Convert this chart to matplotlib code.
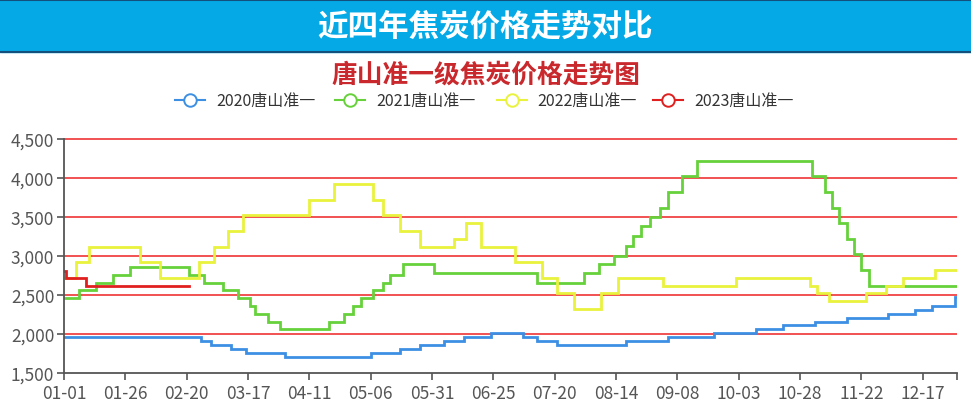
import pandas as pd
import matplotlib.pyplot as plt
from matplotlib.patches import Rectangle

plt.rcParams['font.family'] = ['Noto Sans CJK SC', 'DejaVu Sans']

# step data: date where the price changes -> new price
dates_2020 = ['01-01', '02-26', '03-02', '03-10', '03-16', '04-01', '05-06', '05-18', '05-26',
              '06-05', '06-13', '06-24', '07-07', '07-13', '07-21', '08-18', '09-04', '09-23',
              '10-10', '10-21', '11-03', '11-16', '12-03', '12-14', '12-21', '12-30', '12-31']
vals_2020 = [1960, 1910, 1860, 1810, 1760, 1710, 1760, 1810, 1860,
             1910, 1960, 2010, 1960, 1910, 1860, 1910, 1960, 2010,
             2060, 2110, 2160, 2210, 2260, 2310, 2360, 2480, 2480]

dates_2021 = ['01-01', '01-07', '01-14', '01-21', '01-28', '02-21', '02-27', '03-07', '03-13',
              '03-18', '03-20', '03-25', '03-30', '04-19', '04-25', '04-29', '05-02', '05-07',
              '05-11', '05-14', '05-19', '06-01', '07-13', '08-01', '08-07', '08-13', '08-18',
              '08-21', '08-24', '08-28', '09-01', '09-04', '09-10', '09-16', '11-02', '11-07',
              '11-10', '11-13', '11-16', '11-19', '11-22', '11-25', '12-31']
vals_2021 = [2460, 2560, 2660, 2760, 2860, 2760, 2660, 2560, 2460,
             2360, 2260, 2160, 2060, 2160, 2260, 2360, 2460, 2560,
             2660, 2760, 2900, 2780, 2660, 2780, 2900, 3000, 3130,
             3260, 3380, 3500, 3620, 3820, 4020, 4220, 4020, 3820,
             3620, 3420, 3220, 3020, 2820, 2620, 2620]

dates_2022 = ['01-01', '01-06', '01-11', '02-01', '02-09', '02-25', '03-03', '03-09', '03-15',
              '04-11', '04-21', '05-07', '05-11', '05-18', '05-26', '06-09', '06-14', '06-20',
              '07-04', '07-15', '07-21', '07-28', '08-08', '08-15', '09-02', '10-02', '11-01',
              '11-04', '11-09', '11-24', '12-02', '12-09', '12-22', '12-31']
vals_2022 = [2720, 2920, 3120, 2920, 2720, 2920, 3120, 3320, 3520,
             3720, 3920, 3720, 3520, 3320, 3120, 3220, 3420, 3120,
             2920, 2720, 2520, 2320, 2520, 2720, 2620, 2720, 2620,
             2520, 2420, 2520, 2620, 2720, 2820, 2820]

dates_2023 = ['01-01', '01-02', '01-10', '02-21']
vals_2023 = [2810, 2720, 2620, 2620]

tick_labels = ['01-01', '01-26', '02-20', '03-17', '04-11', '05-06', '05-31', '06-25',
               '07-20', '08-14', '09-08', '10-03', '10-28', '11-22', '12-17']
y_ticks = [1500, 2000, 2500, 3000, 3500, 4000, 4500]

names = ['2020唐山准一', '2021唐山准一', '2022唐山准一', '2023唐山准一']
colors = ['#3d8fe3', '#66d13a', '#e9f23c', '#e0201f']


def day_of(md):
    return (pd.Timestamp('2021-' + md) - pd.Timestamp('2021-01-01')).days


last_day = day_of('12-31')

fig = plt.figure(figsize=(9.71, 4.14), dpi=100)

# banner, titles and legend on a pixel-coordinate overlay
bg = fig.add_axes([0, 0, 1, 1])
bg.set_xlim(0, 971)
bg.set_ylim(414, 0)
bg.axis('off')
bg.add_patch(Rectangle((0, 1), 971, 52, color='#05a9e6', zorder=1))
bg.plot([0, 971], [1, 1], color='#14507e', lw=1.5, zorder=2)
bg.plot([0, 971], [53, 53], color='#14507e', lw=1.5, zorder=2)
bg.text(485, 27, '近四年焦炭价格走势对比', color='white', fontsize=22, fontweight='bold',
        ha='center', va='center', zorder=3)
bg.text(486, 75, '唐山准一级焦炭价格走势图', color='#c9282c', fontsize=18.5, fontweight='bold',
        ha='center', va='center')

leg_marker_x = [190, 350, 512, 668]
leg_text_x = [216, 376, 537, 694]
for name, c, mx, tx in zip(names, colors, leg_marker_x, leg_text_x):
    bg.plot([mx - 15, mx + 15], [101, 101], color=c, lw=1.5)
    bg.plot([mx], [101], marker='o', ms=9, mfc='white', mec=c, mew=1.4)
    bg.text(tx, 101, name, fontsize=11.5, color='#333333', va='center', ha='left')

# main chart
ax = fig.add_axes([64 / 971, 1 - 374 / 414, (957 - 64) / 971, (374 - 140) / 414])
ax.set_facecolor('none')

ax.hlines(y_ticks[1:], 0, last_day, colors='#f03434', lw=1.2, zorder=0.5, clip_on=False)

for d, v, c in zip([dates_2020, dates_2021, dates_2022, dates_2023],
                   [vals_2020, vals_2021, vals_2022, vals_2023], colors):
    ax.plot([day_of(x) for x in d], v, drawstyle='steps-post', color=c, lw=2.0,
            solid_joinstyle='miter')

ax.set_xlim(0, last_day)
ax.set_ylim(1500, 4500)

ax.set_xticks([day_of(t) for t in tick_labels] + [last_day])
ax.set_xticklabels(tick_labels + [''])
ax.set_yticks(y_ticks)
ax.set_yticklabels([f'{v:,}' for v in y_ticks])

for side in ['top', 'right']:
    ax.spines[side].set_visible(False)
for side in ['left', 'bottom']:
    ax.spines[side].set_color('#555555')
    ax.spines[side].set_linewidth(1.3)

ax.tick_params(axis='both', colors='#555555', labelsize=12.5, length=5, width=1.2)
ax.tick_params(axis='x', pad=3)
ax.tick_params(axis='y', pad=2)

plt.savefig('out.png', dpi=100)
plt.close()
